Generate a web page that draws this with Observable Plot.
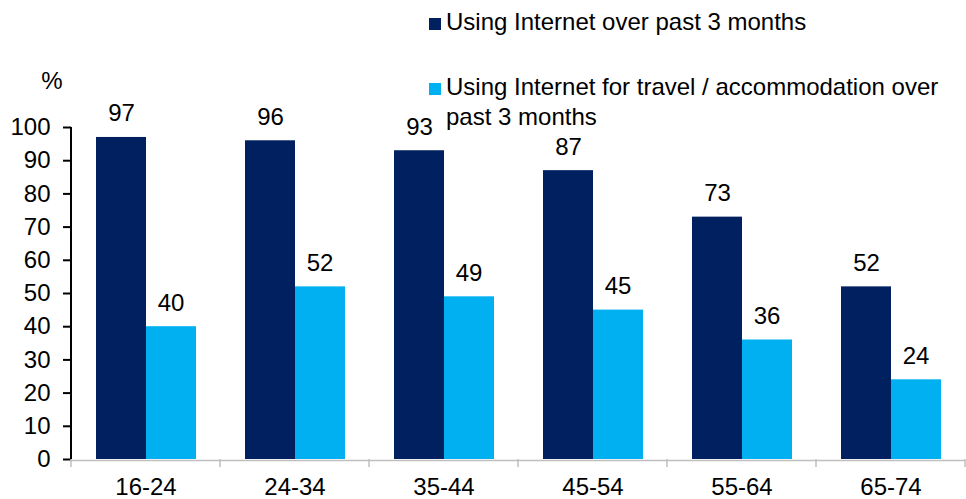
<!DOCTYPE html>
<html>
<head>
<meta charset="utf-8">
<script src="https://cdn.jsdelivr.net/npm/d3@7"></script>
<script src="https://cdn.jsdelivr.net/npm/@observablehq/plot@0.6"></script>
<style>
  body { margin: 0; background: #fff; }
  #wrap { position: relative; width: 966px; height: 499px; font-family: "Liberation Sans", Arial, sans-serif; }
  #wrap svg { position: absolute; left: 0; top: 0; }
  .leg { position: absolute; font-size: 24px; line-height: 30px; color: #000; white-space: nowrap; }
  .sw { position: absolute; width: 12px; height: 12px; }
  g[aria-label="y-axis tick"] path, g[aria-label="y-axis"] .tick line { stroke-width: 2; }
</style>
</head>
<body>
<div id="wrap"></div>
<script>
const ageGroups = ["16-24", "24-34", "35-44", "45-54", "55-64", "65-74"];
const internetUse = [97, 96, 93, 87, 73, 52];
const travelUse = [40, 52, 49, 45, 36, 24];
const seriesNames = ["Using Internet over past 3 months", "Using Internet for travel / accommodation over past 3 months"];
const seriesColors = ["#002060", "#00B0F0"];
const yTicks = [0, 10, 20, 30, 40, 50, 60, 70, 80, 90, 100];
const yUnit = "%";

const internetRows = ageGroups.map((age, i) => ({age, value: internetUse[i], series: seriesNames[0]}));
const travelRows = ageGroups.map((age, i) => ({age, value: travelUse[i], series: seriesNames[1]}));

const axisDecor = (index, scales, values, dims) => {
  const {x, y} = scales;
  const g = d3.create("svg:g");
  const bw = typeof x.bandwidth === "function" ? x.bandwidth() : (dims.width - dims.marginLeft - dims.marginRight) / ageGroups.length;
  const edges = ageGroups.map(a => x(a)).concat([x(ageGroups[ageGroups.length - 1]) + bw]);
  g.selectAll("line.tk").data(edges).join("line")
    .attr("class", "tk")
    .attr("x1", d => d).attr("x2", d => d)
    .attr("y1", y(0)).attr("y2", y(0) + 8)
    .attr("stroke", "#bfbfbf").attr("stroke-width", 1.5);
  g.append("line")
    .attr("x1", x(ageGroups[0])).attr("x2", x(ageGroups[0]))
    .attr("y1", y(0)).attr("y2", y(100))
    .attr("stroke", "#000").attr("stroke-width", 2);
  return g.node();
};

const chart = Plot.plot({
  width: 966,
  height: 499,
  marginLeft: 71,
  marginRight: 1,
  marginTop: 127,
  marginBottom: 40,
  style: {fontFamily: "'Liberation Sans', Arial, sans-serif", fontSize: "24px", color: "#000", background: "transparent", overflow: "visible"},
  x: {domain: ageGroups, padding: 0, tickSize: 0, tickPadding: 18, label: null},
  y: {domain: [0, 100], ticks: yTicks, tickSize: 8, tickPadding: 13, label: null},
  marks: [
    Plot.ruleY([0], {stroke: "#bfbfbf", strokeWidth: 1.5, dy: 1}),
    Plot.barY(internetRows, {x: "age", y: "value", fill: seriesColors[0], insetLeft: 25, insetRight: 74}),
    Plot.barY(travelRows, {x: "age", y: "value", fill: seriesColors[1], insetLeft: 75, insetRight: 24}),
    axisDecor,
    Plot.text(internetRows, {x: "age", y: "value", text: d => String(d.value), dx: -24.5, dy: -16, lineAnchor: "bottom", fill: "#000"}),
    Plot.text(travelRows, {x: "age", y: "value", text: d => String(d.value), dx: 25, dy: -16, lineAnchor: "bottom", fill: "#000"}),
    Plot.text([yUnit], {text: d => d, frameAnchor: "top-left", textAnchor: "end", lineAnchor: "bottom", dx: -9, dy: -39, fill: "#000"})
  ]
});

const wrap = document.getElementById("wrap");
wrap.appendChild(chart);

const legendItems = [
  {label: seriesNames[0], color: seriesColors[0], sq: [429, 18], txt: [446, 7], lines: [seriesNames[0]]},
  {label: seriesNames[1], color: seriesColors[1], sq: [429, 83], txt: [446, 72], lines: ["Using Internet for travel / accommodation over", "past 3 months"]}
];
legendItems.forEach(it => {
  const sw = document.createElement("div");
  sw.className = "sw";
  sw.style.left = it.sq[0] + "px";
  sw.style.top = it.sq[1] + "px";
  sw.style.background = it.color;
  wrap.appendChild(sw);
  const t = document.createElement("div");
  t.className = "leg";
  t.style.left = it.txt[0] + "px";
  t.style.top = it.txt[1] + "px";
  it.lines.forEach((ln, k) => {
    if (k) t.appendChild(document.createElement("br"));
    t.appendChild(document.createTextNode(ln));
  });
  wrap.appendChild(t);
});
</script>
</body>
</html>
